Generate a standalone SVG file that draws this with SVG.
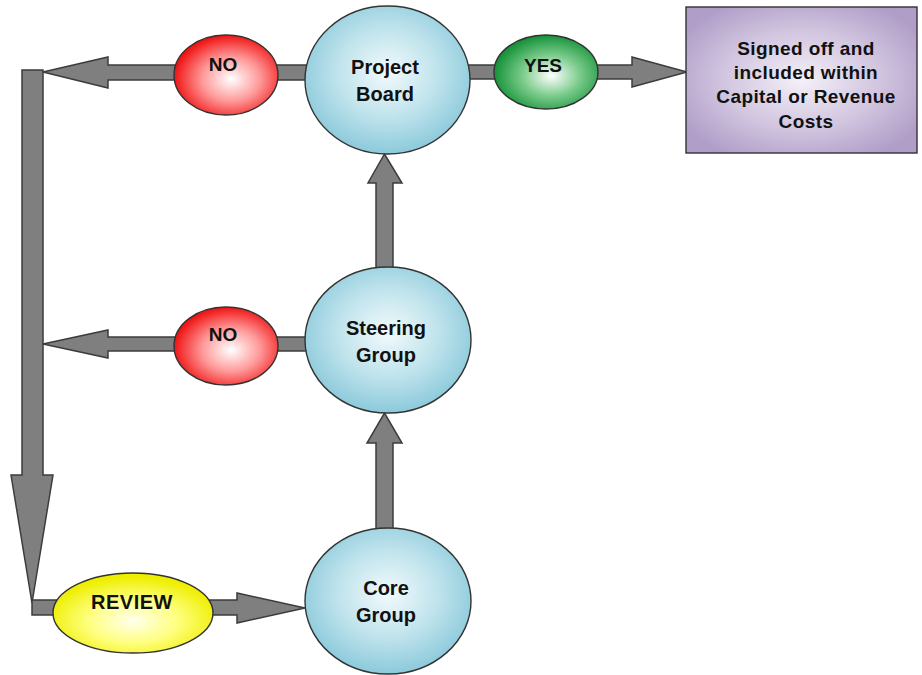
<svg xmlns="http://www.w3.org/2000/svg" width="922" height="675" viewBox="0 0 922 675">
  <defs>
    <radialGradient id="gBlue" cx="50%" cy="45%" r="55%">
      <stop offset="0" stop-color="#f2fafc"/>
      <stop offset="0.55" stop-color="#bfe3ec"/>
      <stop offset="1" stop-color="#8ccadb"/>
    </radialGradient>
    <radialGradient id="gRed" cx="55%" cy="55%" r="55%">
      <stop offset="0" stop-color="#ffffff"/>
      <stop offset="0.5" stop-color="#ff9a9a"/>
      <stop offset="1" stop-color="#f01414"/>
    </radialGradient>
    <radialGradient id="gGreen" cx="55%" cy="55%" r="55%">
      <stop offset="0" stop-color="#ffffff"/>
      <stop offset="0.5" stop-color="#7ccc8c"/>
      <stop offset="1" stop-color="#16923a"/>
    </radialGradient>
    <radialGradient id="gYellow" cx="50%" cy="60%" r="55%">
      <stop offset="0" stop-color="#ffffee"/>
      <stop offset="0.5" stop-color="#ffff80"/>
      <stop offset="1" stop-color="#eeee00"/>
    </radialGradient>
    <radialGradient id="gPurple" cx="50%" cy="50%" r="60%">
      <stop offset="0" stop-color="#f4f0f8"/>
      <stop offset="0.55" stop-color="#d2c6e0"/>
      <stop offset="1" stop-color="#b09ec8"/>
    </radialGradient>
  </defs>
  <style>
    .arrow { fill: #7f7f7f; stroke: #3c3c3c; stroke-width: 1.5; stroke-linejoin: miter; }
    .shape { stroke: #333333; stroke-width: 1.4; }
    .lbl { font-family: "Liberation Sans", Arial, sans-serif; font-weight: bold; fill: #111111; text-anchor: middle; }
  </style>

  <rect width="922" height="675" fill="#ffffff"/>

  <g id="connectors">
    <!-- return path down the left side -->
    <polygon class="arrow" points="22,70 43,70 43,475 53,475 32,603 11,475 22,475"/>
    <!-- Project Board -> NO -> left -->
    <polygon class="arrow" points="43,72 108,57 108,65 320,65 320,80 108,80 108,88"/>
    <!-- Steering Group -> NO -> left -->
    <polygon class="arrow" points="43,344 108,330 108,337 320,337 320,351 108,351 108,358"/>
    <!-- Project Board -> YES -> sign off -->
    <polygon class="arrow" points="455,65 632,65 632,57 687,72 632,87 632,79 455,79"/>
    <!-- Steering Group -> Project Board -->
    <polygon class="arrow" points="376,280 376,183 368,183 384.5,154 402,183 393,183 393,280"/>
    <!-- Core Group -> Steering Group -->
    <polygon class="arrow" points="376,540 376,443 367,443 384.5,413 402,443 393,443 393,540"/>
    <!-- review loop -> REVIEW -> Core Group -->
    <polygon class="arrow" points="32,600 237,600 237,593 305,608 237,623 237,615 32,615"/>
  </g>

  <g id="project-board">
    <ellipse class="shape" cx="387.5" cy="80" rx="82.5" ry="74" fill="url(#gBlue)"/>
    <text class="lbl" x="385" y="74" font-size="20">Project</text>
    <text class="lbl" x="385" y="101" font-size="20">Board</text>
  </g>

  <g id="steering-group">
    <ellipse class="shape" cx="388" cy="340" rx="83" ry="73" fill="url(#gBlue)"/>
    <text class="lbl" x="386" y="335" font-size="20">Steering</text>
    <text class="lbl" x="386" y="362" font-size="20">Group</text>
  </g>

  <g id="core-group">
    <ellipse class="shape" cx="388" cy="601" rx="83" ry="73" fill="url(#gBlue)"/>
    <text class="lbl" x="386" y="595" font-size="20">Core</text>
    <text class="lbl" x="386" y="622" font-size="20">Group</text>
  </g>

  <g id="no-board">
    <ellipse class="shape" cx="226" cy="75" rx="52" ry="40" fill="url(#gRed)"/>
    <text class="lbl" x="223" y="71" font-size="19">NO</text>
  </g>

  <g id="no-steering">
    <ellipse class="shape" cx="226" cy="346" rx="52" ry="39" fill="url(#gRed)"/>
    <text class="lbl" x="223" y="341" font-size="19">NO</text>
  </g>

  <g id="yes">
    <ellipse class="shape" cx="546" cy="72" rx="52" ry="37" fill="url(#gGreen)"/>
    <text class="lbl" x="543" y="72" font-size="19">YES</text>
  </g>

  <g id="review">
    <ellipse class="shape" cx="133" cy="613" rx="80" ry="40" fill="url(#gYellow)"/>
    <text class="lbl" x="132" y="609" font-size="20" letter-spacing="0.5">REVIEW</text>
  </g>

  <g id="signed-off">
    <rect class="shape" x="686" y="7" width="231" height="146" fill="url(#gPurple)"/>
    <text class="lbl" x="806" y="55" font-size="19" letter-spacing="0.4">Signed off and</text>
    <text class="lbl" x="806" y="79" font-size="19" letter-spacing="0.4">included within</text>
    <text class="lbl" x="806" y="103" font-size="19" letter-spacing="0.4">Capital or Revenue</text>
    <text class="lbl" x="806" y="128" font-size="19" letter-spacing="0.4">Costs</text>
  </g>
</svg>
